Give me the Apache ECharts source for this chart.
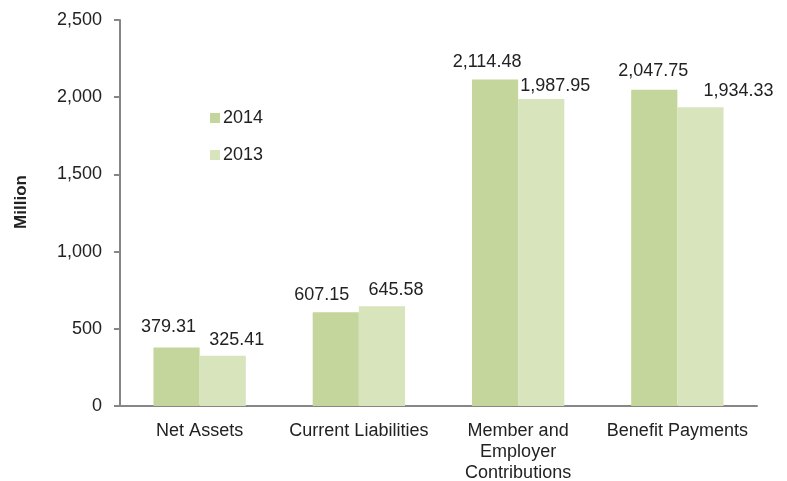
<!DOCTYPE html>
<html lang="en" style="height: 100%">
<head>
  <meta charset="utf-8">
</head>
<body style="height: 100%; margin: 0">
  <div id="container" style="width: 787px; height: 481px"></div>
  <script src="https://cdn.jsdelivr.net/npm/echarts@6/dist/echarts.min.js"></script>
  <script type="text/javascript">
    // data
    var categories = ['Net Assets', 'Current Liabilities', 'Member and\nEmployer\nContributions', 'Benefit Payments'];
    var values2014 = [379.31, 607.15, 2114.48, 2047.75];
    var values2013 = [325.41, 645.58, 1987.95, 1934.33];
    var yTicks = { min: 0, max: 2500, interval: 500 };

    // label nudges (Excel placed them off-centre)
    var offsets2014 = [[-8, -11], [-14, -8], [-8, -8], [-1, -10]];
    var offsets2013 = [[14, -7], [14, -7], [14, -4], [38, -7]];

    var dom = document.getElementById('container');
    var myChart = echarts.init(dom, null, { renderer: 'canvas' });

    var font = 'Liberation Sans, Arial, sans-serif';
    function fmt(v) {
      return v.toLocaleString('en-US', { minimumFractionDigits: 2, maximumFractionDigits: 2 });
    }
    function items(vals, offs) {
      return vals.map(function (v, i) {
        return { value: v, label: { offset: offs[i] } };
      });
    }

    var option = {
      animation: false,
      backgroundColor: '#fff',
      grid: { left: 120, right: 30, top: 20, bottom: 75, outerBoundsMode: 'none' },
      legend: {
        orient: 'vertical',
        left: 205,
        top: 104,
        itemWidth: 10,
        itemHeight: 10,
        itemGap: 19,
        icon: 'rect',
        textStyle: { fontFamily: font, fontSize: 18, color: '#222', padding: [0, 0, 0, -2] },
        data: ['2014', '2013']
      },
      xAxis: {
        type: 'category',
        data: categories,
        axisLine: { lineStyle: { color: '#868686', width: 2 } },
        axisTick: { length: 6, lineStyle: { color: '#868686', width: 2 } },
        axisLabel: {
          interval: 0,
          margin: 15,
          fontFamily: font,
          fontSize: 18,
          color: '#222',
          lineHeight: 21
        }
      },
      yAxis: {
        type: 'value',
        min: yTicks.min,
        max: yTicks.max,
        interval: yTicks.interval,
        name: 'Million',
        nameLocation: 'middle',
        nameGap: 90,
        nameTextStyle: { fontFamily: font, fontSize: 17, fontWeight: 'bold', color: '#222', padding: [0, 0, 0, 22] },
        splitLine: { show: false },
        axisLine: { show: true, lineStyle: { color: '#868686', width: 2 } },
        axisTick: { show: true, length: 6, lineStyle: { color: '#868686', width: 2 } },
        axisLabel: {
          margin: 18,
          fontFamily: font,
          fontSize: 18,
          color: '#222',
          formatter: function (v) { return v.toLocaleString('en-US'); }
        }
      },
      series: [
        {
          name: '2014',
          type: 'bar',
          barGap: '0%',
          barCategoryGap: '42%',
          itemStyle: { color: '#c4d69b' },
          label: {
            show: true,
            position: 'top',
            distance: 0,
            fontFamily: font,
            fontSize: 18,
            color: '#222',
            formatter: function (p) { return fmt(p.value); }
          },
          data: items(values2014, offsets2014)
        },
        {
          name: '2013',
          type: 'bar',
          barGap: '0%',
          barCategoryGap: '42%',
          itemStyle: { color: '#d8e4bc' },
          label: {
            show: true,
            position: 'top',
            distance: 0,
            fontFamily: font,
            fontSize: 18,
            color: '#222',
            formatter: function (p) { return fmt(p.value); }
          },
          data: items(values2013, offsets2013)
        }
      ]
    };

    myChart.setOption(option);
    window.addEventListener('resize', myChart.resize);
  </script>
</body>
</html>
